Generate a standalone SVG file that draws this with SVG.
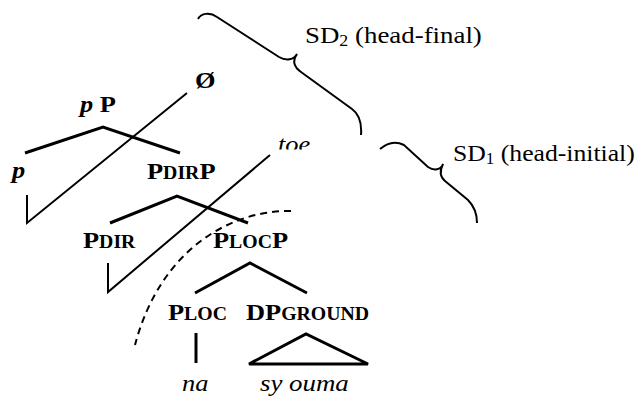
<svg xmlns="http://www.w3.org/2000/svg" width="643" height="397" viewBox="0 0 643 397">
<style>
.lb{font-family:"Liberation Serif","Times New Roman",serif;font-weight:bold;font-size:24px;fill:#000}
.sc{font-size:18px}
.it{font-family:"Liberation Serif","Times New Roman",serif;font-style:italic;font-size:24px;fill:#000}
.rg{font-family:"Liberation Serif","Times New Roman",serif;font-size:24px;fill:#000}
.sub{font-size:16px}
.br{fill:none;stroke:#000;stroke-width:3;stroke-linejoin:miter}
.mv{fill:none;stroke:#000;stroke-width:2}
.ds{fill:none;stroke:#000;stroke-width:2;stroke-dasharray:7 5}
.bc{fill:none;stroke:#000;stroke-width:2}
</style>
<defs>
  <clipPath id="toeclip"><rect x="260" y="120" width="70" height="29.5"/></clipPath>
</defs>
<rect width="643" height="397" fill="#fff"/>
<g id="nodes">
  <g id="null"><text class="lb" transform="translate(195,88) scale(1.1,1)">Ø</text></g>
  <g id="pP"><text class="lb" transform="translate(80,112) scale(1.1,1)"><tspan font-style="italic">p</tspan> P</text></g>
  <g id="p"><text class="lb" font-style="italic" transform="translate(12,178) scale(1.1,1)">p</text></g>
  <g id="PdirP"><text class="lb" transform="translate(147,179) scale(1.1,1)">P<tspan class="sc">DIR</tspan>P</text></g>
  <g id="toe" clip-path="url(#toeclip)"><text class="it" font-size="22" transform="translate(278,152) scale(1.1,1)">toe</text></g>
  <g id="Pdir"><text class="lb" transform="translate(83,248) scale(1.1,1)">P<tspan class="sc">DIR</tspan></text></g>
  <g id="PlocP"><text class="lb" transform="translate(213,248) scale(1.1,1)">P<tspan class="sc">LOC</tspan>P</text></g>
  <g id="Ploc"><text class="lb" transform="translate(168,320) scale(1.1,1)">P<tspan class="sc">LOC</tspan></text></g>
  <g id="DPground"><text class="lb" transform="translate(246,320) scale(1.1,1)">DP<tspan class="sc">GROUND</tspan></text></g>
  <g id="na"><text class="it" transform="translate(182,391) scale(1.1,1)">na</text></g>
  <g id="syouma"><text class="it" transform="translate(260,391) scale(1.12,1)">sy ouma</text></g>
  <g id="SD2"><text class="rg" transform="translate(305,43) scale(1.12,1)">SD<tspan class="sub" dy="3">2</tspan><tspan dy="-3"> (head-final)</tspan></text></g>
  <g id="SD1"><text class="rg" transform="translate(453,161) scale(1.07,1)">SD<tspan class="sub" dy="3">1</tspan><tspan dy="-3"> (head-initial)</tspan></text></g>
</g>
<g id="connectors">
  <path class="br" d="M25,153 L103,127 L180,153"/>
  <path class="br" d="M110,223 L177,196 L248,223"/>
  <path class="br" d="M195,293 L250,263 L307,293"/>
  <path class="br" d="M196,333 L196,363"/>
  <path class="br" d="M249,364 L306,334 L368,364 Z"/>
  <path class="mv" d="M187,93 L27,223 L27,195"/>
  <path class="mv" d="M270,155 L108,292 L108,263"/>
  <path class="ds" d="M291,211 C230,210 160,250 135,345"/>
  <path class="bc" d="M198,19 C201,13 210,12 217,17 L279,57 C286,61 294,60 297,54 C292,61 294,67 301,72 L352,109 C359,114 362,122 361,135"/>
  <path class="bc" d="M380,149 C388,142 396,141 404,145 L428,167 C434,171 441,170 443,164 C440,170 439,176 445,181 L468,200 C474,206 477,214 477,223"/>
</g>
</svg>
